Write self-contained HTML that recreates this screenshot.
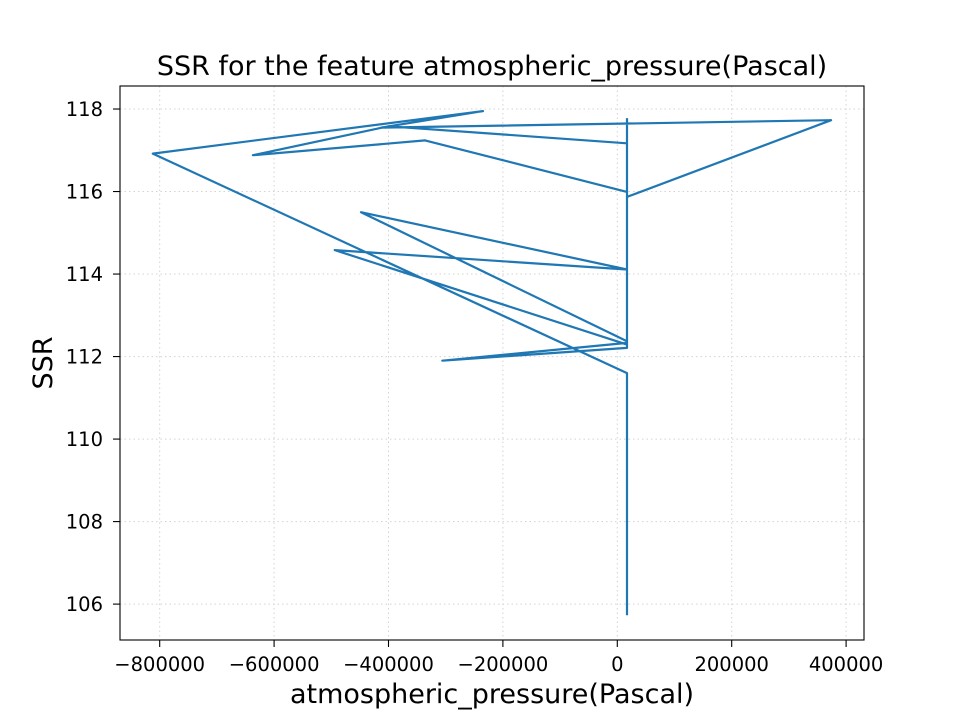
<!DOCTYPE html>
<html><head><meta charset="utf-8"><style>
body{margin:0;background:#fff;font-family:"DejaVu Sans",sans-serif}
</style></head><body>
<svg id="chart" width="960" height="720" xmlns="http://www.w3.org/2000/svg" font-family="DejaVu Sans, sans-serif">
<rect width="960" height="720" fill="#fff"/>
<g id="grid"></g>
<g id="ticks"></g>
<path id="line" fill="none" stroke="#1f77b4" stroke-width="2.2" stroke-linejoin="round"/>
<rect x="120" y="86" width="744" height="554" fill="none" stroke="#000" stroke-width="1.1"/>
<text x="492" y="75" font-size="27" text-anchor="middle">SSR for the feature atmospheric_pressure(Pascal)</text>
<text x="492" y="703" font-size="27" text-anchor="middle">atmospheric_pressure(Pascal)</text>
<text x="0" y="0" font-size="27" text-anchor="middle" transform="translate(52,363) rotate(-90)">SSR</text>
</svg>
<script>
const xValues=[17000,17000,-812000,-234800,-413000,373800,17000,17000,-336000,-637000,-400000,17000,17000,-448000,17000,-494000,17000,17000,-306000,17000,17000];
const ssrValues=[105.73,111.6,116.92,117.95,117.55,117.73,115.87,115.99,117.24,116.88,117.58,117.17,112.37,115.5,114.11,114.58,112.29,112.33,111.9,112.21,117.78];
const xTicks=[-800000,-600000,-400000,-200000,0,200000,400000];
const yTicks=[106,108,110,112,114,116,118];
const L=120,R=864,T=86,B=640;
const xMin=-869400,xMax=431300,yMin=105.13,yMax=118.558;
const sx=v=>L+(v-xMin)/(xMax-xMin)*(R-L);
const sy=v=>B-(v-yMin)/(yMax-yMin)*(B-T);
const NS="http://www.w3.org/2000/svg";
const grid=document.getElementById('grid'),ticks=document.getElementById('ticks');
function mk(tag,attrs,parent){const e=document.createElementNS(NS,tag);for(const k in attrs)e.setAttribute(k,attrs[k]);parent.appendChild(e);return e;}
xTicks.forEach(v=>{const x=sx(v);
 const g=mk('line',{x1:x,x2:x,y1:T,y2:B,stroke:'#d3d3d3','stroke-dasharray':'1.5,3'},grid);
 
 
 const t=mk('line',{x1:x,x2:x,y1:B,y2:B+7,stroke:'#000','stroke-width':1.1},ticks);
 
 
 const l=mk('text',{x:x,y:B+31,'font-size':'19.5','text-anchor':'middle'},ticks);
 l.textContent=v===0?'0':(v<0?'\u2212':'')+Math.abs(v);
 
 
});
yTicks.forEach(v=>{const y=sy(v);
 const g=mk('line',{x1:L,x2:R,y1:y,y2:y,stroke:'#d3d3d3','stroke-dasharray':'1.5,3'},grid);
 
 
 const t=mk('line',{x1:L-7,x2:L,y1:y,y2:y,stroke:'#000','stroke-width':1.1},ticks);
 
 
 const l=mk('text',{x:L-17,y:y+7,'font-size':'19.5','text-anchor':'end'},ticks);
 l.textContent=String(v);
 
 
});
document.getElementById('line').setAttribute('d',xValues.map((v,i)=>(i?'L':'M')+sx(v).toFixed(1)+','+sy(ssrValues[i]).toFixed(1)).join(' '));
</script>
</body></html>
